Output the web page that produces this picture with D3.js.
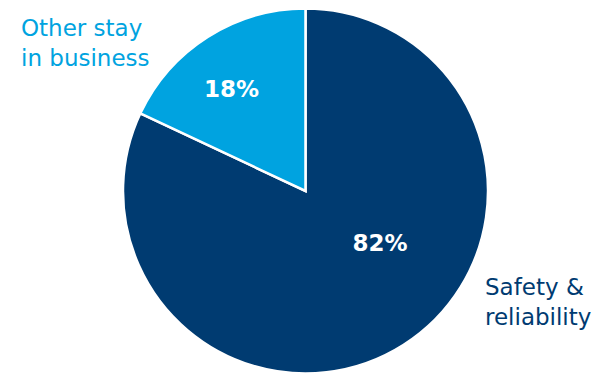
<!DOCTYPE html>
<html>
<head>
<meta charset="utf-8">
<script src="https://cdn.jsdelivr.net/npm/d3@7"></script>
<style>
  html, body { margin: 0; padding: 0; background: #fff; }
  svg { display: block; }
  text { font-family: "DejaVu Sans", Verdana, sans-serif; }
</style>
</head>
<body>
<svg id="chart" width="597" height="373"></svg>
<script>
// Share of spend by category
const categories = ["Safety & reliability", "Other stay in business"];
const values = [82, 18];
const valueLabels = ["82%", "18%"];
const colors = ["#003b71", "#00a3e0"];

const svg = d3.select("#chart");
const cx = 305.5, cy = 191, radius = 182.5;

const pie = d3.pie().sort(null).value(d => d.value);
const arcs = pie(categories.map((c, i) => ({ name: c, value: values[i], label: valueLabels[i], color: colors[i] })));

const arc = d3.arc().innerRadius(0).outerRadius(radius);

const g = svg.append("g").attr("transform", `translate(${cx},${cy})`);

g.selectAll("path")
  .data(arcs)
  .join("path")
  .attr("d", arc)
  .attr("fill", d => d.data.color)
  .attr("stroke", "#fff")
  .attr("stroke-width", 2.5)
  .attr("stroke-linejoin", "miter");

// Percent labels inside slices
const labelPos = [[74.5, 59.5], [-74, -94.5]];
g.selectAll("text.pct")
  .data(arcs)
  .join("text")
  .attr("class", "pct")
  .attr("x", (d, i) => labelPos[i][0])
  .attr("y", (d, i) => labelPos[i][1])
  .attr("text-anchor", "middle")
  .attr("fill", "#fff")
  .attr("font-weight", "bold")
  .attr("font-size", 23)
  .text(d => d.data.label);

// Category labels outside the pie
const catLabels = [
  { lines: ["Safety &", "reliability"], x: 485, y: 295, color: colors[0] },
  { lines: ["Other stay", "in business"], x: 21, y: 36, color: colors[1] }
];
catLabels.forEach(l => {
  const t = svg.append("text")
    .attr("x", l.x).attr("y", l.y)
    .attr("fill", l.color)
    .attr("font-size", 23);
  l.lines.forEach((s, i) => {
    t.append("tspan").attr("x", l.x).attr("dy", i === 0 ? 0 : 29.5).text(s);
  });
});
</script>
</body>
</html>
